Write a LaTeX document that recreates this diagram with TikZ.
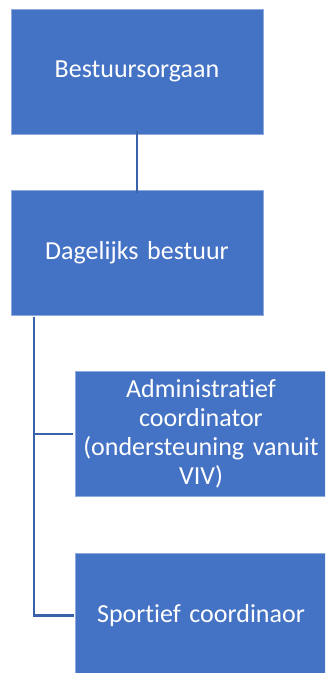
\documentclass[tikz,border=0pt]{standalone}
\usepackage{fontspec}
\setmainfont[Ligatures=CommonOff]{Carlito}
\definecolor{boxfill}{HTML}{4472C4}
\definecolor{boxedge}{HTML}{8FAADC}
\definecolor{linkc}{HTML}{3A62AA}
\begin{document}
\begin{tikzpicture}[x=1pt,y=-1pt,
  orgbox/.style={rectangle,fill=boxfill,draw=boxedge,line width=0.8pt,
    minimum width=252pt,minimum height=125pt,inner sep=0pt,text=white,
    font=\fontsize{26}{29}\selectfont,align=center,text width=250pt},
  link/.style={draw=linkc,line width=2.5pt}]
\useasboundingbox (0,0) rectangle (325,673);
\begin{scope}
\clip (0,0) rectangle (325,673);
\node[orgbox] (b1) at (137,71.5) {Bestuursorgaan};
\node[orgbox] (b2) at (137,252.5) {Dagelijks bestuur};
\node[orgbox] (b3) at (201,434) {Administratief\\coordinator\\(ondersteuning vanuit\\VIV)};
\node[orgbox] (b4) at (201,615.5) {Sportief coordinaor};
\coordinate (c0) at (34,318);
\coordinate (c1) at (34,434);
\coordinate (c2) at (34,615.5);
\draw[link] ([yshift=3pt]b1.south) -- ([yshift=-3pt]b2.north);
\draw[link,line cap=rect] (c0) -- (c2) -- ([xshift=-2pt]b4.west);
\draw[link] (c1) -- ([xshift=-2pt]b3.west);
\end{scope}
\end{tikzpicture}
\end{document}
